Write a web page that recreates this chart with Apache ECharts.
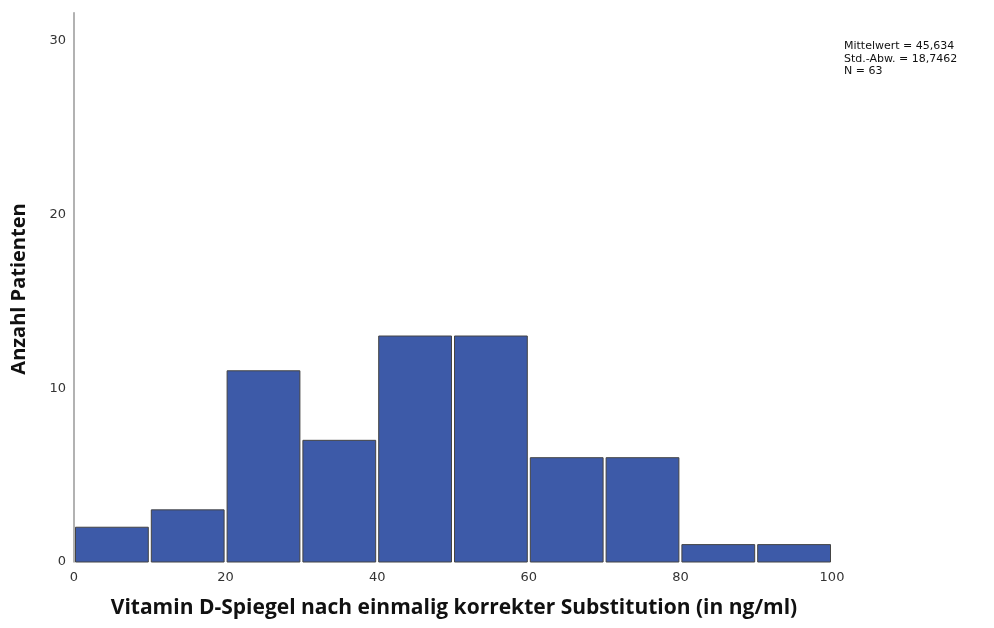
<!DOCTYPE html>
<html><head><meta charset="utf-8">
<script src="https://cdn.jsdelivr.net/npm/echarts@6/dist/echarts.min.js"></script>
<style>html,body{margin:0;padding:0;background:#fff}#c{width:994px;height:628px}</style>
</head><body><div id="c"></div>
<script>
const binStarts = [0,10,20,30,40,50,60,70,80,90];
const binWidth = 10;
const counts = [2,3,11,7,13,13,6,6,1,1];
const statsLines = ["Mittelwert = 45,634","Std.-Abw. = 18,7462","N = 63"];
const xTitle = "Vitamin D-Spiegel nach einmalig korrekter Substitution (in ng/ml)";
const yTitle = "Anzahl Patienten";

const data = binStarts.map((s,i)=>[s, s+binWidth, counts[i]]);
const chart = echarts.init(document.getElementById('c'));
chart.setOption({
  animation:false,
  grid:{left:74,right:162,top:12.7,bottom:66},
  xAxis:{type:'value',min:0,max:100,interval:20,
    axisLine:{show:false},axisTick:{show:false},splitLine:{show:false},
    axisLabel:{color:'#333',fontSize:13,fontFamily:'DejaVu Sans',margin:9}},
  yAxis:{type:'value',min:0,max:31.6,interval:10,
    axisLine:{show:true,onZero:false,lineStyle:{color:'#999',width:1.5}},axisTick:{show:false},splitLine:{show:false},
    axisLabel:{color:'#333',fontSize:13,fontFamily:'DejaVu Sans',margin:8,showMaxLabel:false}},
  graphic:[
    {type:'text',x:844,y:40,style:{text:statsLines.join('\n'),fontSize:11,lineHeight:12.5,fill:'#111',fontFamily:'DejaVu Sans'}},
    {type:'text',x:454,y:598,style:{text:xTitle,fontSize:21,fontWeight:'bold',fill:'#111',fontFamily:'Open Sans',align:'center',verticalAlign:'top'}},
    {type:'text',x:9,y:289,rotation:Math.PI/2,style:{text:yTitle,fontSize:20,fontWeight:'bold',fill:'#111',fontFamily:'Open Sans',align:'center',verticalAlign:'top'}}
  ],
  series:[{type:'custom',data:data,
    renderItem:function(params,api){
      const p0=api.coord([api.value(0),0]);
      const p1=api.coord([api.value(1),api.value(2)]);
      return {type:'rect',shape:{x:p0[0]+1.5,y:p1[1],width:p1[0]-p0[0]-3,height:p0[1]-p1[1]},
        style:{fill:'#3d5aa8',stroke:'#444',lineWidth:1}};
    },
    encode:{x:[0,1],y:2}}]
});
</script></body></html>
